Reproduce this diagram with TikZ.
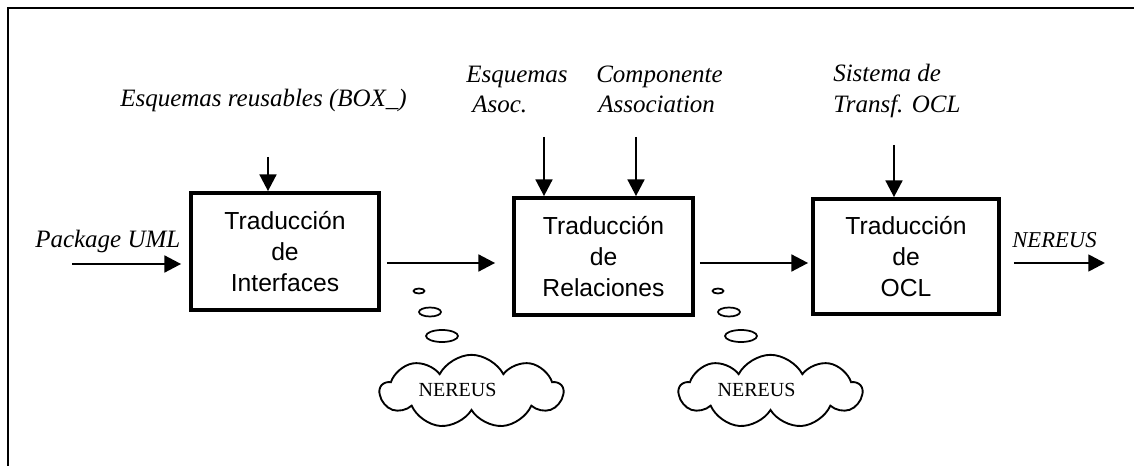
\documentclass[tikz,border=0pt]{standalone}
\usepackage{fontspec}
\setmainfont{Liberation Serif}
\newfontfamily\arialf{Liberation Sans}
\usetikzlibrary{arrows.meta,shapes.symbols,shapes.geometric,calc}
\begin{document}
\begin{tikzpicture}[x=0.75pt,y=-0.75pt,
  proc/.style={draw,line width=2.8pt,align=center,inner sep=0pt,
    font=\arialf\fontsize{18.5}{23}\selectfont},
  lab/.style={inner sep=0pt,font=\itshape\fontsize{18.75}{23}\selectfont},
  arr/.style={line width=2pt,-{Triangle[length=12.5pt,width=12.5pt]}},
  bubble/.style={draw,ellipse,line width=1.3pt,inner sep=0pt},
  thought/.style={draw,cloud,cloud puffs=9,cloud puff arc=125,cloud ignores aspect,
    line width=1.4pt,minimum width=137pt,minimum height=55pt,inner sep=0pt},
  cloudtext/.style={inner sep=0pt,font=\fontsize{15}{18}\selectfont}
]
\useasboundingbox (0,0) rectangle (1134,466);
\draw[line width=2pt] (8,466) -- (8,8) -- (1134,8);

% boxes
\node[proc,minimum width=141pt,minimum height=87.75pt] (b1) at (285,251.5) {Traducción\\de\\Interfaces};
\node[proc,minimum width=134.25pt,minimum height=87.75pt] (b2) at (603.5,256.5) {Traducción\\de\\Relaciones};
\node[proc,minimum width=139.5pt,minimum height=86.25pt] (b3) at (906,256.5) {Traducción\\de\\OCL};

% labels
\node[lab,anchor=base west] (lpkg) at (35,248) {Package UML};
\node[lab,anchor=base west] (lbox) at (120,107) {Esquemas reusables (BOX\_)};
\node[lab,anchor=base west] (lesq1) at (466,83) {Esquemas};
\node[lab,anchor=base west] (lesq2) at (472,113) {Asoc.};
\node[lab,anchor=base west] (lcomp1) at (596,83) {Componente};
\node[lab,anchor=base west] (lcomp2) at (598,113) {Association};
\node[lab,anchor=base west] (lsis1) at (833,82) {Sistema de};
\node[lab,anchor=base west] (lsis2) at (833,113) {Transf. OCL};
\node[lab,anchor=base west,font=\itshape\fontsize{17}{20}\selectfont] (lout) at (1012,248) {NEREUS};

% coordinates for free ends
\coordinate (pin) at (72,264);
\coordinate (row) at (0,263);
\coordinate (out) at (1105,263);
\coordinate (t1) at (268,157);
\coordinate (t2a) at (544,137);
\coordinate (t2b) at (636,137);
\coordinate (t3) at (894,145);

% arrows
\draw[arr,shorten >=6pt] (pin) -- (pin -| b1.west);
\draw[arr,shorten <=4.5pt,shorten >=12.75pt] (b1.east |- row) -- (b2.west |- row);
\draw[arr,shorten <=3.75pt,shorten >=2.25pt] (b2.east |- row) -- (b3.west |- row);
\draw[arr,shorten <=9.75pt] (b3.east |- row) -- (out);
\draw[arr] (t1) -- (t1 |- b1.north);
\draw[arr] (t2a) -- (t2a |- b2.north);
\draw[arr] (t2b) -- (t2b |- b2.north);
\draw[arr] (t3) -- (t3 |- b3.north);

% thought bubbles
\node[bubble,minimum width=8.25pt,minimum height=3.75pt] (s1) at (419,291) {};
\node[bubble,minimum width=16.5pt,minimum height=6.75pt] (m1) at (430,312) {};
\node[bubble,minimum width=24pt,minimum height=9pt] (g1) at (442,336) {};
\node[thought] (c1) at (471.5,391.5) {};
\node[cloudtext] (n1) at (457.5,390) {NEREUS};

\node[bubble,minimum width=8.25pt,minimum height=3.75pt] (s2) at (718,291) {};
\node[bubble,minimum width=16.5pt,minimum height=6.75pt] (m2) at (729,312) {};
\node[bubble,minimum width=24pt,minimum height=9pt] (g2) at (741,336) {};
\node[thought] (c2) at (770.5,391.5) {};
\node[cloudtext] (n2) at (756.5,390) {NEREUS};
\end{tikzpicture}
\end{document}
